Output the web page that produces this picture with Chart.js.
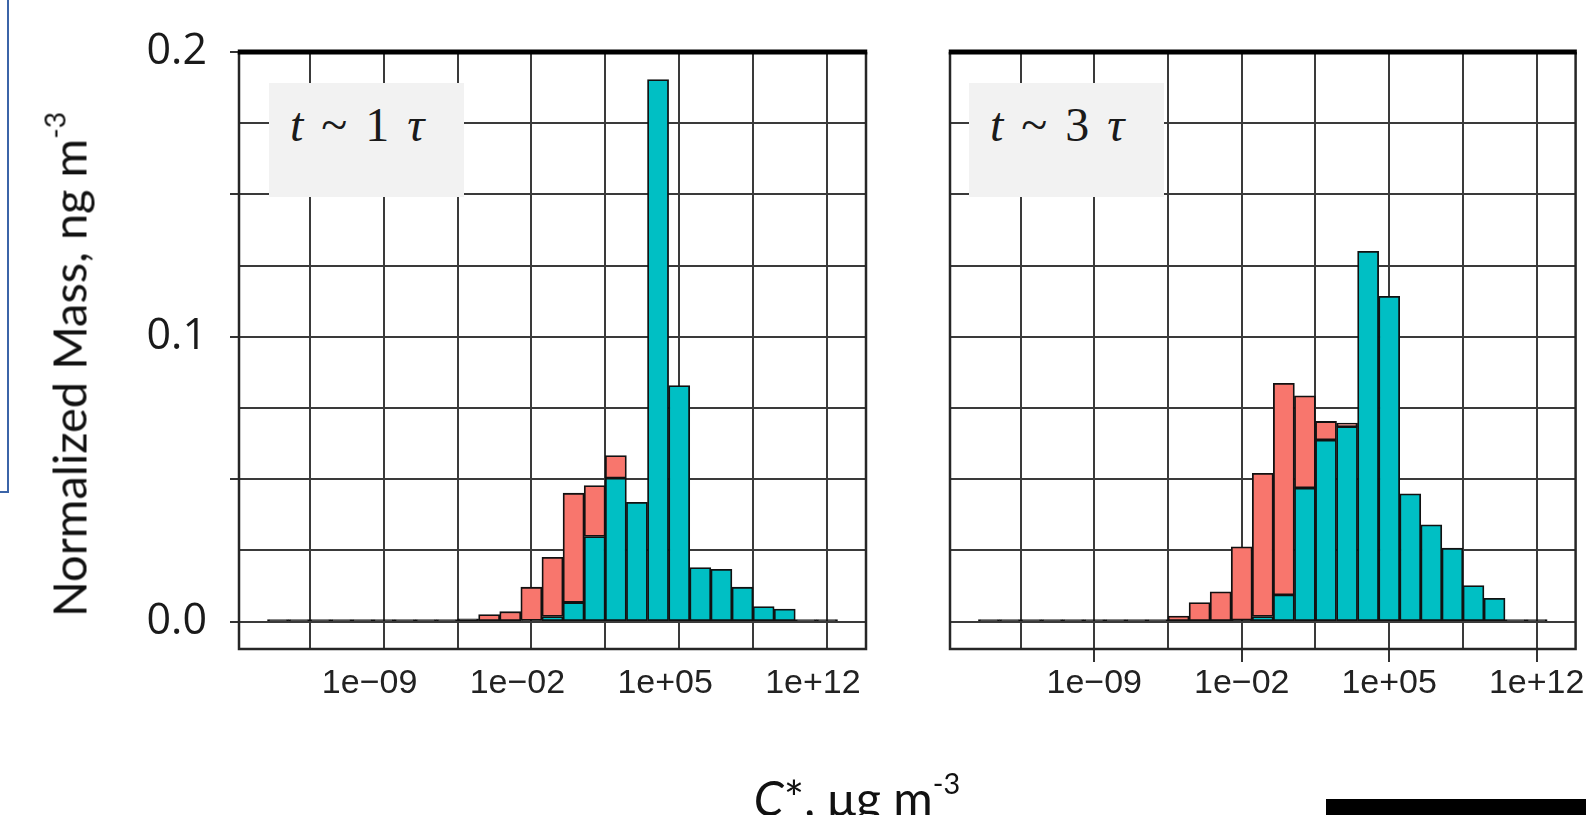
<!DOCTYPE html>
<html>
<head>
<meta charset="utf-8">
<script src="https://cdn.jsdelivr.net/npm/chart.js@4.4.1/dist/chart.umd.min.js"></script>
<style>
html,body{margin:0;padding:0;background:#fff;}
body{width:1586px;height:815px;position:relative;overflow:hidden;}
canvas{position:absolute;top:0;}
#c1{left:0;}
#c2{left:900px;}
.box{position:absolute;background:#f2f2f2;top:83px;height:114px;}
.lab{position:absolute;top:101px;font-family:"Liberation Serif",serif;font-size:48px;line-height:48px;color:#1a1a1a;white-space:pre;word-spacing:6px;}
.lab i{font-style:italic;}
.ytitle{position:absolute;width:640px;height:55px;line-height:55px;left:-251px;top:337px;text-align:center;
  font-family:Lato,sans-serif;font-size:47px;color:#111;transform:rotate(-90deg);white-space:pre;}
.xtitle{position:absolute;width:400px;height:58px;line-height:58px;left:657px;top:769px;text-align:center;
  font-family:Lato,sans-serif;font-size:48px;color:#111;white-space:pre;}
sup{font-size:60%;line-height:0;vertical-align:0.75em;}
.bluebox{position:absolute;left:-100px;top:-10px;width:105px;height:499px;border:2px solid #3b64a8;}
.blackbar{position:absolute;left:1326px;top:799px;width:260px;height:16px;background:#000;}
</style>
</head>
<body>
<div class="bluebox"></div>
<canvas id="c1" width="880" height="815"></canvas>
<canvas id="c2" width="686" height="815"></canvas>
<div class="box" style="left:269px;width:195px;"></div>
<div class="box" style="left:969px;width:195px;"></div>
<div class="lab" style="left:290px;"><i>t</i> ~ 1 <i>τ</i></div>
<div class="lab" style="left:990px;"><i>t</i> ~ 3 <i>τ</i></div>
<div class="ytitle">Normalized Mass, ng m<sup>-3</sup></div>
<div class="xtitle"><i>C</i>*, μg m<sup>-3</sup></div>
<div class="blackbar"></div>
<script>
// log10(C*) bin centres (one-decade bins)
const binExponents = [-14,-13,-12,-11,-10,-9,-8,-7,-6,-5,-4,-3,-2,-1,0,1,2,3,4,5,6,7,8,9,10,11,12];
// t ~ 1 tau : teal (bottom) and salmon (top) stack segments
const t1Teal   = [0,0,0,0,0,0,0,0,0,0,0,0,0.0004,0.0018,0.0067,0.0299,0.0504,0.0419,0.1903,0.0829,0.0190,0.0184,0.0121,0.0053,0.0044,0.0007,0.0007];
const t1Salmon = [0.0007,0.0007,0.0007,0.0007,0.0007,0.0007,0.0007,0.0007,0.0007,0.0010,0.0025,0.0035,0.0117,0.0208,0.0384,0.0179,0.0079,0,0,0,0,0,0,0,0,0,0];
// t ~ 3 tau
const t3Teal   = [0,0,0,0,0,0,0,0,0,0,0,0,0.0005,0.0018,0.0094,0.0469,0.0638,0.0685,0.1300,0.1142,0.0449,0.0340,0.0258,0.0127,0.0082,0.0007,0.0007];
const t3Salmon = [0.0007,0.0007,0.0007,0.0007,0.0007,0.0007,0.0007,0.0007,0.0007,0.0020,0.0067,0.0105,0.0258,0.0503,0.0743,0.0324,0.0065,0.0012,0,0,0,0,0,0,0,0,0];
// axis ticks
const xTickExponents = [-9,-2,5,12];
const xGridExponents = [-12.5,-9,-5.5,-2,1.5,5,8.5,12];
const yGridValues = [0,0.025,0.05,0.075,0.1,0.125,0.15,0.175,0.2];
const yTickMarkValues = [0,0.05,0.1,0.15,0.2];
const yLabelValues = [0,0.1,0.2];
const xRange = [-15.85, 13.85];
const yRange = [-0.0096, 0.2];

const TEAL = '#00BFC4', SALMON = '#F8766D', GRID = '#3a3a3a', OUTLINE = '#111';

function near(a, list){ return list.some(v => Math.abs(v - a) < 1e-9); }
function fmtExp(e){
  const s = e < 0 ? '\u2212' : '+';
  const a = Math.abs(e);
  return '1e' + s + (a < 10 ? '0' + a : '' + a);
}
// near-zero bars render as just their dark outline, as in the original
const fillFor = (col) => (c) => (c.raw && c.raw.y > 0 && c.raw.y < 0.0011) ? OUTLINE : col;

const framePlugin = {
  id: 'frame',
  afterDatasetsDraw(chart){
    const {ctx, chartArea: a} = chart;
    ctx.save();
    ctx.strokeStyle = '#262626';
    ctx.lineWidth = 2.5;
    ctx.beginPath();
    ctx.moveTo(a.left, a.top); ctx.lineTo(a.left, a.bottom);
    ctx.lineTo(a.right, a.bottom); ctx.lineTo(a.right, a.top);
    ctx.stroke();
    ctx.strokeStyle = '#000';
    ctx.lineWidth = 5;
    ctx.beginPath();
    ctx.moveTo(a.left - 1.25, a.top); ctx.lineTo(a.right + 1.25, a.top);
    ctx.stroke();
    ctx.restore();
  }
};

function makePanel(id, teal, salmon, cfg){
  const mk = (vals) => binExponents.map((x, i) => ({x: x, y: vals[i]}));
  return new Chart(document.getElementById(id), {
    type: 'bar',
    data: {
      datasets: [
        {label: 'teal', data: mk(teal), backgroundColor: fillFor(TEAL), borderColor: OUTLINE, borderWidth: 1.8,
         borderSkipped: false, barPercentage: 1, categoryPercentage: 1},
        {label: 'salmon', data: mk(salmon), backgroundColor: fillFor(SALMON), borderColor: OUTLINE, borderWidth: 1.8,
         borderSkipped: false, barPercentage: 1, categoryPercentage: 1}
      ]
    },
    options: {
      responsive: false,
      animation: false,
      devicePixelRatio: 1,
      layout: {padding: {top: 52, right: cfg.padRight, bottom: 0, left: 0}},
      plugins: {legend: {display: false}, tooltip: {enabled: false}},
      scales: {
        x: {
          type: 'linear', stacked: true, offset: false,
          min: xRange[0], max: xRange[1],
          afterBuildTicks: (s) => { s.ticks = xGridExponents.map(v => ({value: v})); },
          afterFit: (s) => { s.height = 166; },
          border: {display: false},
          grid: {
            offset: false, color: GRID, lineWidth: 2, drawTicks: true, tickLength: 13, tickWidth: 2,
            tickColor: (c) => (cfg.showXTicks && c.tick && near(c.tick.value, xTickExponents)) ? '#333' : 'rgba(0,0,0,0)'
          },
          ticks: {
            autoSkip: false, maxRotation: 0, minRotation: 0, padding: 1,
            labelOffset: cfg.labelOffset,
            color: '#222',
            font: {family: '"Liberation Sans", Arial, sans-serif', size: 34},
            callback: (v) => near(v, xTickExponents) ? fmtExp(Math.round(v)) : ''
          }
        },
        y: {
          type: 'linear', stacked: true,
          min: yRange[0], max: yRange[1],
          afterBuildTicks: (s) => { s.ticks = yGridValues.map(v => ({value: v})); },
          afterFit: (s) => { s.width = cfg.yWidth; },
          border: {display: false},
          grid: {
            color: GRID, lineWidth: 2, drawTicks: cfg.showY, tickLength: 9, tickWidth: 2,
            tickColor: (c) => (c.tick && near(c.tick.value, yTickMarkValues)) ? '#333' : 'rgba(0,0,0,0)'
          },
          ticks: {
            display: cfg.showY, padding: 23, color: '#1a1a1a',
            font: {family: '"Open Sans", sans-serif', size: 43},
            callback: (v) => near(v, yLabelValues) ? v.toFixed(1) : ''
          }
        }
      }
    },
    plugins: [framePlugin]
  });
}

makePanel('c1', t1Teal, t1Salmon, {padRight: 14, yWidth: 239, showY: true, showXTicks: false, labelOffset: -14});
makePanel('c2', t3Teal, t3Salmon, {padRight: 10, yWidth: 50, showY: false, showXTicks: true, labelOffset: 0});
</script>
</body>
</html>
